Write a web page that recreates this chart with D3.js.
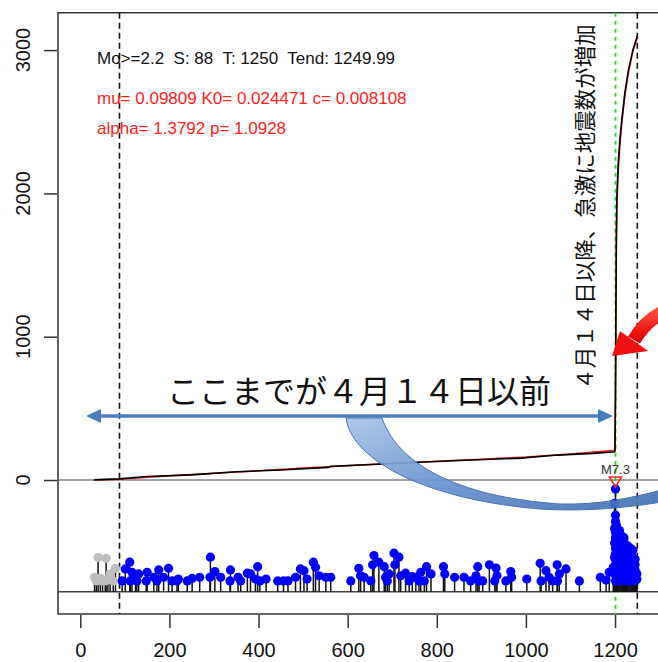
<!DOCTYPE html>
<html>
<head>
<meta charset="utf-8">
<script src="https://cdn.jsdelivr.net/npm/d3@7"></script>
<style>
  html, body { margin: 0; padding: 0; background: #fff; }
  svg { display: block; }
  text { font-family: "Liberation Sans", Arial, Helvetica, sans-serif; }
  .jp { font-family: "Noto Sans CJK JP", sans-serif; }
</style>
</head>
<body>
<div id="chart"></div>
<script>
var xTicks = [0, 200, 400, 600, 800, 1000, 1200];
var yTicks = [0, 1000, 2000, 3000];

var infoLine = 'Mo>=2.2  S: 88  T: 1250  Tend: 1249.99';
var paramLine1 = 'mu= 0.09809 K0= 0.024471 c= 0.008108';
var paramLine2 = 'alpha= 1.3792 p= 1.0928';
var tStart = 88, tEnd = 1250, tMain = 1201, mainMag = 7.3;

// cumulative number, observed (black) and model (red)
var obsTime  = [30, 40, 88, 150, 250, 350, 450, 557, 562, 650, 750, 850, 989, 1071, 1150, 1199, 1200, 1201, 1202, 1203, 1204, 1207, 1211, 1215, 1222, 1230, 1240, 1250];
var obsCount = [0, 3, 8, 25, 36, 58, 70, 88, 95, 108, 122, 136, 153, 174, 186, 197, 205, 600, 1200, 1700, 1960, 2200, 2380, 2510, 2700, 2860, 3000, 3100];
var modelTime  = [40, 88, 200, 300, 400, 500, 600, 700, 800, 900, 1000, 1100, 1199, 1201, 1202, 1203, 1204, 1207, 1211, 1215, 1222, 1230, 1240, 1250];
var modelCount = [0, 6, 30, 48, 64, 84, 100, 116, 131, 145, 160, 182, 207, 560, 1150, 1650, 1900, 2150, 2340, 2480, 2680, 2840, 2990, 3090];

// events before S (grey)
var preTimes = [32, 36, 40, 45, 50, 56, 58, 62, 67, 74, 79];
var preMags  = [2.4, 2.2, 3.5, 2.35, 2.2, 2.2, 3.45, 2.3, 2.6, 2.2, 2.9];

// events in target period (blue)
var evTimes = [94, 101, 111, 112, 116, 124, 127, 131, 148, 150, 165, 172, 176, 187, 198, 206, 217, 220, 240, 251, 268,
  291, 292, 302, 315, 336, 337, 354, 360, 375, 382, 393, 398, 403, 417, 443, 456, 466, 483, 494, 502, 509, 523, 528,
  536, 551, 562, 607, 625, 629, 637, 652, 656, 659, 670, 682, 685, 689, 693, 704, 706, 715, 719, 730, 738, 745, 753,
  760, 764, 772, 777, 787, 815, 818, 840, 861, 876, 888, 892, 895, 903, 918, 930, 933, 935, 955, 966, 968, 1002,
  1032, 1034, 1045, 1052, 1060, 1070, 1071, 1075, 1090, 1120, 1167, 1180, 1187, 1196];
var evMags = [2.2, 2.87, 3.24, 2.2, 2.68, 2.49, 2.2, 2.59, 2.2, 2.68, 2.4, 2.2, 2.81, 2.4, 2.9, 2.2, 2.2, 2.31, 2.2, 2.34, 2.4,
  2.4, 3.52, 2.72, 2.4, 2.2, 2.81, 2.4, 2.2, 2.63, 2.59, 2.31, 2.99, 2.2, 2.31, 2.2, 2.2, 2.2, 2.4, 2.87, 2.77, 2.31, 3.24, 2.96,
  2.49, 2.4, 2.4, 2.2, 2.9, 2.49, 2.4, 2.2, 3.1, 3.61, 3.24, 2.99, 2.4, 2.2, 2.59, 3.74, 3.1, 3.52, 2.49, 2.63, 2.2, 2.44, 2.4,
  2.2, 2.68, 2.2, 2.99, 2.59, 2.99, 2.59, 2.4, 2.4, 2.2, 2.49, 2.99, 2.2, 2.2, 3.1, 2.2, 2.92, 2.49, 2.2, 2.72, 2.4, 2.31,
  3.18, 2.2, 2.77, 2.4, 2.2, 3.1, 2.2, 2.59, 2.87, 2.2, 2.4, 2.25, 2.68, 2.96];

// foreshock / mainshock / aftershocks, one list of magnitudes per day
var seqDays = [1199, 1201, 1203, 1206, 1210, 1215, 1220, 1225, 1230, 1235, 1240, 1245, 1249];
var seqMags = [
  [6.5, 5.1, 4.3, 3.5, 2.7],
  [7.3, 5.85, 5.5, 5.2, 4.9, 4.6, 4.3, 4.0, 3.7, 3.4, 3.1, 2.8, 2.5, 2.2],
  [5.3, 5.0, 4.7, 4.4, 4.1, 3.8, 3.5, 3.2, 2.9, 2.6, 2.3],
  [5.0, 4.7, 4.4, 4.1, 3.8, 3.5, 3.2, 2.9, 2.6, 2.3],
  [5.0, 4.6, 4.3, 4.0, 3.7, 3.4, 3.1, 2.8, 2.5, 2.2],
  [4.7, 4.4, 4.1, 3.8, 3.5, 3.2, 2.9, 2.6, 2.3],
  [4.6, 4.2, 3.9, 3.6, 3.3, 3.0, 2.7, 2.4],
  [4.2, 3.9, 3.6, 3.3, 3.0, 2.7, 2.4, 2.2],
  [4.1, 3.8, 3.5, 3.2, 2.9, 2.6, 2.3],
  [4.0, 3.7, 3.4, 3.1, 2.8, 2.5, 2.2],
  [3.9, 3.5, 3.2, 2.9, 2.6, 2.3],
  [3.4, 3.1, 2.8, 2.5, 2.2],
  [2.6, 2.3]
];

var noteBefore = 'ここまでが４月１４日以前';
var noteAfter = '４月１４日以降、急激に地震数が増加';

var w = 658, h = 662;
var svg = d3.select('#chart').append('svg').attr('width', w).attr('height', h);

var x = d3.scaleLinear().domain([-50, 1300]).range([58, 659.6]);
var y = d3.scaleLinear().domain([-935, 3261]).range([614, 12.7]);
var yBase = -780;
var mag = d3.scaleLinear().domain([1.6, 7.3]).range([y(yBase), 489]);

var events = [];
preTimes.forEach(function(t, i) { events.push({ t: t, m: preMags[i], grey: true }); });
evTimes.forEach(function(t, i) { events.push({ t: t, m: evMags[i], grey: false }); });
seqDays.forEach(function(t, i) {
  seqMags[i].forEach(function(m) { events.push({ t: t, m: m, grey: false }); });
});
// small ones first so big ones sit on top
events.sort(function(a, b) { return a.m - b.m; });

// frame
var frame = svg.append('g').attr('stroke', '#333').attr('stroke-width', 1.5).attr('fill', 'none');
frame.append('path').attr('d', 'M' + w + ',' + y.range()[1] + 'H' + x.range()[0] + 'V' + y.range()[0] + 'H' + w);

svg.append('line').attr('x1', x.range()[0]).attr('x2', w)
  .attr('y1', y(0)).attr('y2', y(0)).attr('stroke', '#444').attr('stroke-width', 1);
svg.append('line').attr('x1', x.range()[0]).attr('x2', w)
  .attr('y1', y(yBase)).attr('y2', y(yBase)).attr('stroke', '#444').attr('stroke-width', 1.5);

// axes
var xAxis = svg.append('g').attr('transform', 'translate(0,' + (y.range()[0] + 1) + ')')
  .call(d3.axisBottom(x).tickValues(xTicks).tickSize(13).tickPadding(15).tickFormat(d3.format('d')));
xAxis.select('.domain').remove();
xAxis.selectAll('line').attr('stroke', '#333').attr('stroke-width', 1.5);
xAxis.selectAll('text').attr('font-size', '20px').attr('fill', '#111')
  .attr('font-family', '"Liberation Sans", Arial, sans-serif');

var yAxis = svg.append('g').attr('transform', 'translate(' + (x.range()[0] - 1) + ',0)')
  .call(d3.axisLeft(y).tickValues(yTicks).tickSize(13).tickFormat(d3.format('d')));
yAxis.select('.domain').remove();
yAxis.selectAll('line').attr('stroke', '#333').attr('stroke-width', 1.5);
yAxis.selectAll('text').remove();
svg.selectAll('.ylab').data(yTicks).enter().append('text')
  .attr('transform', function(d) { return 'translate(30,' + y(d) + ') rotate(-90)'; })
  .attr('text-anchor', 'middle').attr('font-size', '20px').attr('fill', '#111')
  .text(function(d) { return d; });

// vertical reference lines
[tStart, tEnd].forEach(function(t) {
  svg.append('line').attr('x1', x(t)).attr('x2', x(t))
    .attr('y1', y.range()[1]).attr('y2', y.range()[0])
    .attr('stroke', '#111').attr('stroke-width', 1.6).attr('stroke-dasharray', '6,4');
});
svg.append('line').attr('x1', x(tMain)).attr('x2', x(tMain))
  .attr('y1', y.range()[1]).attr('y2', y.range()[0])
  .attr('stroke', '#22e022').attr('stroke-width', 2).attr('stroke-dasharray', '4,4');

// cumulative curves
var line = d3.line().x(function(d) { return x(d[0]); }).y(function(d) { return y(d[1]); });
svg.append('path').datum(d3.zip(modelTime, modelCount)).attr('d', line)
  .attr('fill', 'none').attr('stroke', '#ff2020').attr('stroke-width', 1.5);
svg.append('path').datum(d3.zip(obsTime, obsCount)).attr('d', line)
  .attr('fill', 'none').attr('stroke', '#000').attr('stroke-width', 1.6);

// magnitude stems
svg.append('g').selectAll('line').data(events).enter().append('line')
  .attr('x1', function(d) { return x(d.t); }).attr('x2', function(d) { return x(d.t); })
  .attr('y1', y(yBase)).attr('y2', function(d) { return mag(d.m); })
  .attr('stroke', '#111').attr('stroke-width', 1.5);
svg.append('g').selectAll('circle').data(events).enter().append('circle')
  .attr('cx', function(d) { return x(d.t); }).attr('cy', function(d) { return mag(d.m); })
  .attr('r', 4.6)
  .attr('fill', function(d) { return d.grey ? '#bebebe' : '#0000ff'; });

// mainshock mark
var mx = x(tMain);
svg.append('path').attr('d', 'M' + (mx - 6) + ',477L' + (mx + 6) + ',477L' + mx + ',487Z')
  .attr('fill', 'none').attr('stroke', '#ff2020').attr('stroke-width', 1.5);
svg.append('text').attr('x', mx).attr('y', 474).attr('text-anchor', 'middle')
  .attr('font-size', '13px').attr('fill', '#333').text('M' + mainMag);

// parameter text
svg.append('text').attr('x', 97).attr('y', 64).attr('font-size', '17px').attr('fill', '#111')
  .style('white-space', 'pre').text(infoLine);
svg.append('text').attr('x', 97).attr('y', 104).attr('font-size', '17px').attr('fill', '#ff2020')
  .text(paramLine1);
svg.append('text').attr('x', 97).attr('y', 134).attr('font-size', '17px').attr('fill', '#ff2020')
  .text(paramLine2);

// ---- slide annotations ----
var defs = svg.append('defs');
var g1 = defs.append('linearGradient').attr('id', 'bend').attr('x1', 0).attr('y1', 0).attr('x2', 1).attr('y2', 1);
g1.append('stop').attr('offset', '0%').attr('stop-color', '#a9c4e8');
g1.append('stop').attr('offset', '45%').attr('stop-color', '#6f98d0');
g1.append('stop').attr('offset', '100%').attr('stop-color', '#3f6fb3');
var g2 = defs.append('linearGradient').attr('id', 'redbend').attr('x1', 0).attr('y1', 0).attr('x2', 0).attr('y2', 1);
g2.append('stop').attr('offset', '0%').attr('stop-color', '#ff4a3a');
g2.append('stop').attr('offset', '100%').attr('stop-color', '#e00000');

// curved blue arrow body
svg.append('path')
  .attr('d', 'M346,418 C352,462 430,500 540,509 C590,512 630,507 662,502 L662,490 C630,498 600,505 560,504 C470,498 400,470 382,418 Z')
  .attr('fill', 'url(#bend)').attr('stroke', '#3a66a8').attr('stroke-width', 1).attr('opacity', 0.92);

// double arrow
var ay = 416, blue = '#4a7ebb';
svg.append('line').attr('x1', 98).attr('x2', 600).attr('y1', ay).attr('y2', ay)
  .attr('stroke', blue).attr('stroke-width', 3.5);
svg.append('path').attr('d', 'M86,' + ay + 'L101,' + (ay - 7) + 'L101,' + (ay + 7) + 'Z').attr('fill', blue);
svg.append('path').attr('d', 'M613,' + ay + 'L598,' + (ay - 7) + 'L598,' + (ay + 7) + 'Z').attr('fill', blue);

svg.append('text').attr('class', 'jp').attr('x', 167).attr('y', 403)
  .attr('font-size', '32px').attr('fill', '#111').text(noteBefore);

svg.append('text').attr('class', 'jp')
  .attr('transform', 'translate(593,207) rotate(-90)')
  .attr('text-anchor', 'middle').attr('font-size', '21.5px').attr('fill', '#111').text(noteAfter);

// red arrow
svg.append('path').attr('d', 'M664,312 Q646,320 634,340')
  .attr('fill', 'none').attr('stroke', 'url(#redbend)').attr('stroke-width', 14);
svg.append('path').attr('d', 'M612,356 L620,331 L648,351 Z').attr('fill', '#f01010');
</script>
</body>
</html>
